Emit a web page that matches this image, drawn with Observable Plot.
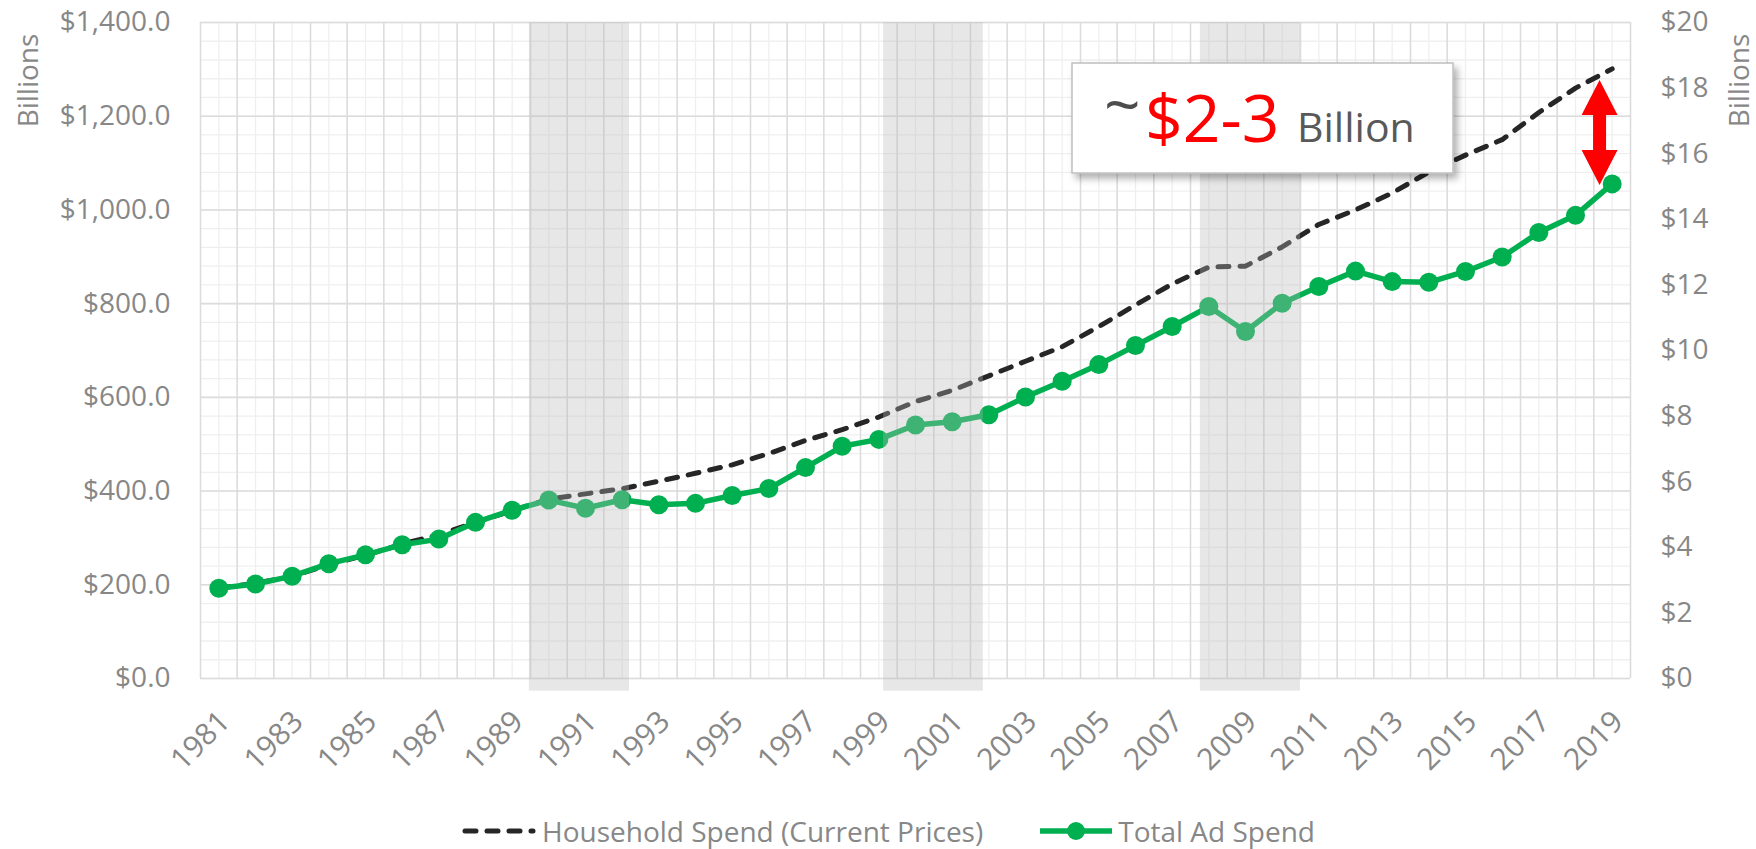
<!DOCTYPE html>
<html><head><meta charset="utf-8">
<script src="https://cdn.jsdelivr.net/npm/d3@7"></script>
<script src="https://cdn.jsdelivr.net/npm/@observablehq/plot@0.6"></script>
<style>
body{margin:0;background:#fff;font-family:"Open Sans",sans-serif;}
#wrap{position:relative;width:1756px;height:849px;overflow:hidden;background:#fff}
#chart{position:absolute;left:0;top:0}
.legend{position:absolute;top:813px;left:0;width:1756px;height:36px;display:flex;justify-content:center;align-items:center;font-family:"Open Sans",sans-serif;font-size:28px;line-height:36px;color:#878787;white-space:nowrap;padding-left:20px;box-sizing:border-box}
.legend .item{display:flex;align-items:center}
.legend svg{display:block}
</style></head><body><div id="wrap"><div id="chart"></div>
<div class="legend">
  <div class="item"><svg width="76" height="20"><line x1="4" y1="10" x2="72" y2="10" stroke="#262626" stroke-width="5" stroke-dasharray="11,11" stroke-linecap="round"/></svg><span style="margin-left:5px">Household Spend (Current Prices)</span></div>
  <div class="item" style="margin-left:55px"><svg width="76" height="24"><line x1="2" y1="12" x2="74" y2="12" stroke="#00b050" stroke-width="5.5"/><circle cx="38" cy="12" r="9" fill="#00b050"/></svg><span style="margin-left:4px">Total Ad Spend</span></div>
</div>
<svg id="note" style="position:absolute;left:0;top:0" width="1756" height="849">
  <defs><filter id="sh" x="-10%" y="-20%" width="130%" height="150%"><feDropShadow dx="4" dy="5" stdDeviation="3.5" flood-color="#000" flood-opacity="0.3"/></filter></defs>
  <rect x="1072" y="63" width="381" height="110" fill="#fff" stroke="#bfbfbf" stroke-width="1.5" filter="url(#sh)"/>
  <text x="1104" y="128" font-family="Open Sans" font-size="64" fill="#4d4d4d">~</text>
  <text x="1145" y="142" font-family="Open Sans" font-size="66" fill="#ff0000">$2-3</text>
  <text x="1297" y="142" font-family="Open Sans" font-size="41" fill="#595959">Billion</text>
</svg>
</div>
<script>
// ---- data ----
const years = [1981,1982,1983,1984,1985,1986,1987,1988,1989,1990,1991,1992,1993,1994,1995,1996,1997,1998,1999,2000,2001,2002,2003,2004,2005,2006,2007,2008,2009,2010,2011,2012,2013,2014,2015,2016,2017,2018,2019];
// Household spend, current prices ($B, left axis)
const household = [193,203,218,243,263,287,307,333,358,383,394,405,421,438,456,480,508,531,558,591,615,646,677,708,751,797,842,878,880,921,969,1000,1036,1081,1117,1150,1208,1260,1301];
// Total ad spend ($B, right axis)
const adSpend = [2.75,2.88,3.12,3.50,3.77,4.08,4.25,4.76,5.13,5.44,5.19,5.45,5.30,5.34,5.58,5.79,6.43,7.08,7.29,7.73,7.83,8.04,8.58,9.06,9.57,10.15,10.73,11.34,10.58,11.44,11.95,12.42,12.10,12.08,12.41,12.85,13.60,14.12,15.08];
// recession shading (in year units on the category axis)
const recessionStart = [1989.47, 1999.13, 2007.77];
const recessionEnd = [1992.2, 2001.85, 2010.5];
// left-axis ticks and right-axis ticks
const leftTicks = [0,200,400,600,800,1000,1200,1400];
const rightTicks = [0,2,4,6,8,10,12,14,16,18,20];
const yearLabels = [1981,1983,1985,1987,1989,1991,1993,1995,1997,1999,2001,2003,2005,2007,2009,2011,2013,2015,2017,2019];
// annotation arrow: x position (year units), top (left $B), bottom (right $B)
const arrowX = 2018.67, arrowTopLeft = 1276, arrowBottomRight = 15.03;

const ratio = 1400 / 20; // right axis -> left axis units
const GRAY = "#878787";

const hh = years.map((y, i) => ({year: y, v: household[i]}));
const ad = years.map((y, i) => ({year: y, v: adSpend[i]}));
const rec = recessionStart.map((s, i) => ({s, e: recessionEnd[i]}));

const minorH = d3.range(0, 1401, 40);
const majorV = d3.range(1980.5, 2020, 1);

function doubleArrow(index, scales) {
  const px = scales.x(arrowX), a = scales.y(arrowTopLeft), b = scales.y(arrowBottomRight * ratio);
  const hw = 18, hh2 = 35, sw = 6.5;
  const pts = [[px,a],[px+hw,a+hh2],[px+sw,a+hh2],[px+sw,b-hh2],[px+hw,b-hh2],[px,b],[px-hw,b-hh2],[px-sw,b-hh2],[px-sw,a+hh2],[px-hw,a+hh2]];
  const p = document.createElementNS("http://www.w3.org/2000/svg", "path");
  p.setAttribute("d", "M" + pts.map(d => d.join(",")).join("L") + "Z");
  p.setAttribute("fill", "#ff0000");
  return p;
}

const chart = Plot.plot({
  width: 1756,
  height: 800,
  marginLeft: 200,
  marginRight: 126,
  marginTop: 22,
  marginBottom: 122,
  style: {fontFamily: "Open Sans", fontSize: "28px", color: GRAY, background: "#fff", overflow: "visible"},
  x: {domain: [1980.5, 2019.5]},
  y: {domain: [0, 1400]},
  marks: [
    Plot.ruleY(minorH, {stroke: "#efefef", strokeWidth: 1.3}),
    Plot.ruleX(years, {stroke: "#efefef", strokeWidth: 1.3}),
    Plot.ruleY(leftTicks, {stroke: "#dcdcdc", strokeWidth: 1.6}),
    Plot.ruleX(majorV, {stroke: "#dcdcdc", strokeWidth: 1.6}),
    Plot.axisY({ticks: leftTicks, tickSize: 0, tickPadding: 30, tickFormat: d => "$" + d3.format(",.1f")(d), label: null, fontSize: 28, fill: GRAY}),
    Plot.axisY({anchor: "right", ticks: rightTicks.map(d => d * ratio), tickSize: 0, tickPadding: 30, tickFormat: d => "$" + Math.round(d / ratio), label: null, fontSize: 28, fill: GRAY}),
    Plot.axisX({ticks: yearLabels, tickSize: 0, tickPadding: 14, tickRotate: -45, tickFormat: d => String(d), label: null, fontSize: 30, fill: GRAY, dx: 6, dy: 24}),
    Plot.text(["Billions"], {frameAnchor: "top-left", dx: -171, dy: 58, rotate: -90, textAnchor: "middle", lineAnchor: "middle", fontSize: 28, fill: GRAY}),
    Plot.text(["Billions"], {frameAnchor: "top-right", dx: 110, dy: 58, rotate: -90, textAnchor: "middle", lineAnchor: "middle", fontSize: 28, fill: GRAY}),
    Plot.line(hh, {x: "year", y: "v", stroke: "#262626", strokeWidth: 5, strokeDasharray: "11,11", strokeLinecap: "round"}),
    Plot.line(ad, {x: "year", y: d => d.v * ratio, stroke: "#00b050", strokeWidth: 5.5}),
    Plot.dot(ad, {x: "year", y: d => d.v * ratio, r: 9.5, fill: "#00b050"}),
    Plot.rect(rec, {x1: "s", x2: "e", y1: -27, y2: 1400, fill: "#b9b9b9", fillOpacity: 0.34}),
    doubleArrow
  ]
});
document.getElementById("chart").appendChild(chart);
</script>
</body></html>
